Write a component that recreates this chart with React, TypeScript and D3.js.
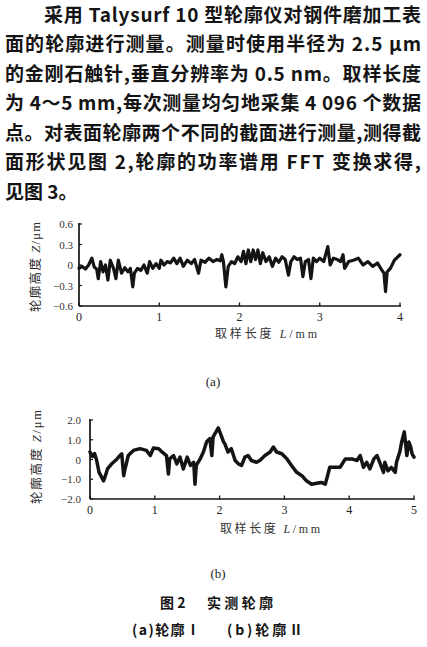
import React from 'react';
import * as d3 from 'd3';

// ---- paragraph text ----
const paragraphLines = [
  '采用 Talysurf 10 型轮廓仪对钢件磨加工表',
  '面的轮廓进行测量。测量时使用半径为 2.5 μm',
  '的金刚石触针,垂直分辨率为 0.5 nm。取样长度',
  '为 4～5 mm,每次测量均匀地采集 4 096 个数据',
  '点。对表面轮廓两个不同的截面进行测量,测得截',
  '面形状见图 2,轮廓的功率谱用 FFT 变换求得,',
  '见图 3。',
];

// ---- profile I (a) ----
const profileA_L = [
  0.00, 0.04, 0.08, 0.12, 0.16, 0.19, 0.22, 0.24, 0.27, 0.30, 0.33, 0.36, 0.39, 0.43, 0.46, 0.49,
  0.53, 0.57, 0.61, 0.64, 0.67, 0.69, 0.73, 0.77, 0.81, 0.85, 0.88, 0.92, 0.96, 1.00, 1.02, 1.06,
  1.10, 1.14, 1.18, 1.22, 1.26, 1.30, 1.35, 1.40, 1.44, 1.49, 1.52, 1.57, 1.62, 1.67, 1.72, 1.76,
  1.78, 1.80, 1.83, 1.86, 1.90, 1.94, 1.98, 2.02, 2.05, 2.08, 2.11, 2.14, 2.17, 2.20, 2.23, 2.26,
  2.29, 2.33, 2.37, 2.41, 2.45, 2.49, 2.53, 2.57, 2.61, 2.64, 2.68, 2.72, 2.76, 2.79, 2.82, 2.86,
  2.89, 2.92, 2.96, 3.00, 3.05, 3.10, 3.13, 3.17, 3.22, 3.26, 3.29, 3.31, 3.36, 3.42, 3.48, 3.54,
  3.60, 3.66, 3.72, 3.77, 3.80, 3.82, 3.84, 3.88, 3.93, 4.00,
];
const profileA_Z = [
  -0.05, -0.02, -0.06, 0.00, 0.10, -0.03, -0.06, -0.20, 0.05, -0.10, 0.00, -0.22, 0.07, -0.05, -0.20, 0.07,
  -0.12, -0.04, -0.10, -0.05, -0.32, -0.12, -0.05, -0.08, 0.00, -0.12, 0.05, -0.05, 0.02, -0.05, 0.07, 0.00,
  0.05, 0.03, 0.10, 0.02, 0.10, -0.02, 0.07, 0.02, 0.08, -0.12, 0.07, 0.04, 0.10, 0.05, 0.08, 0.06,
  0.15, 0.05, -0.32, -0.02, 0.05, 0.02, 0.12, 0.05, 0.20, 0.02, 0.22, 0.05, 0.22, 0.08, 0.22, 0.02,
  0.18, 0.05, 0.12, -0.02, 0.10, 0.04, 0.12, 0.08, -0.15, 0.05, 0.12, 0.08, 0.10, -0.17, 0.05, 0.08,
  -0.20, 0.10, 0.05, 0.10, 0.05, 0.27, 0.00, 0.10, 0.08, 0.05, 0.15, -0.05, 0.05, 0.07, 0.10, 0.00,
  0.05, -0.02, 0.03, -0.07, -0.12, -0.39, -0.10, -0.05, 0.07, 0.15,
];
const xTicksA = [0, 1, 2, 3, 4];
const yTicksA = [0.6, 0.3, 0, -0.3, -0.6];
const yTickLabelsA = ['0.6', '0.3', '0', '−0.3', '−0.6'];

// ---- profile II (b) ----
const profileB_L = [
  0.00, 0.04, 0.07, 0.10, 0.14, 0.21, 0.23, 0.27, 0.34, 0.41, 0.46, 0.49, 0.52, 0.54, 0.56, 0.59,
  0.67, 0.77, 0.87, 0.93, 0.98, 1.06, 1.11, 1.18, 1.21, 1.23, 1.29, 1.34, 1.39, 1.44, 1.50, 1.55,
  1.60, 1.62, 1.64, 1.70, 1.75, 1.80, 1.85, 1.88, 1.90, 1.98, 2.06, 2.08, 2.13, 2.18, 2.24, 2.29,
  2.34, 2.39, 2.44, 2.49, 2.57, 2.62, 2.70, 2.78, 2.83, 2.88, 2.96, 3.04, 3.11, 3.19, 3.27, 3.34,
  3.42, 3.50, 3.57, 3.63, 3.66, 3.70, 3.78, 3.86, 3.94, 4.04, 4.12, 4.17, 4.22, 4.27, 4.32, 4.38,
  4.43, 4.48, 4.53, 4.55, 4.60, 4.65, 4.71, 4.73, 4.78, 4.81, 4.85, 4.89, 4.92, 4.95, 4.97, 5.00,
];
const profileB_Z = [
  0.38, 0.15, 0.30, 0.00, -0.65, -1.08, -0.90, -0.48, -0.20, 0.00, 0.20, 0.28, -0.82, -0.48, -0.22, 0.20,
  0.46, 0.55, 0.46, 0.20, 0.58, 0.55, 0.38, 0.20, -0.74, 0.03, 0.20, -0.22, 0.12, -0.48, 0.12, -0.30,
  -0.14, -1.25, -0.30, 0.03, 0.38, 0.90, 1.06, 0.20, 1.14, 1.60, 0.90, 0.80, 0.38, 0.55, -0.05, -0.22,
  -0.30, 0.12, 0.20, -0.05, -0.14, -0.05, 0.20, 0.38, 0.63, 0.38, 0.29, 0.03, -0.30, -0.65, -0.82, -1.08,
  -1.25, -1.20, -1.16, -1.25, -0.90, -0.39, -0.39, -0.39, 0.03, 0.03, -0.05, 0.20, -0.40, -0.14, -0.48, 0.03,
  0.20, -0.22, -0.65, -0.14, -0.57, -0.40, -0.65, -0.14, 0.38, 0.89, 1.40, 0.20, 0.89, 0.63, 0.29, 0.12,
];
const xTicksB = [0, 1, 2, 3, 4, 5];
const yTicksB = [2, 1, 0, -1, -2];
const yTickLabelsB = ['2.0', '1.0', '0', '−1.0', '−2.0'];

const INK = '#141414';
const SERIF = '"Liberation Serif", "DejaVu Serif", serif';
const CJK = '"Noto Sans CJK SC", "Noto Sans", sans-serif';

type ChartProps = {
  L: number[];
  Z: number[];
  xTicks: number[];
  yTicks: number[];
  yTickLabels: string[];
  left: number;
  right: number;
  top: number;
  bottom: number;
  strokeW: number;
  labelGap: number;
  xTitleX: number;
  xTitleY: number;
  xTitleLen: number;
  yTitleX: number;
  yTitleY: number;
  yTitleLen: number;
};

function ProfileChart(p: ChartProps) {
  const xDom = [p.xTicks[0], p.xTicks[p.xTicks.length - 1]];
  const yDom = [p.yTicks[p.yTicks.length - 1], p.yTicks[0]];
  const x = d3.scaleLinear().domain(xDom).range([p.left, p.right]);
  const y = d3.scaleLinear().domain(yDom).range([p.bottom, p.top]);
  const pts = p.L.map((l, i) => [l, p.Z[i]] as [number, number]);
  const line = d3
    .line<[number, number]>()
    .x((d) => x(d[0]))
    .y((d) => y(d[1]));
  return (
    <g>
      <line x1={p.left} x2={p.left} y1={p.top - 1} y2={p.bottom} stroke={INK} strokeWidth={1.7} />
      <line x1={p.left} x2={p.right + 1} y1={p.bottom} y2={p.bottom} stroke={INK} strokeWidth={1.7} />
      {p.yTicks.map((t, i) => (
        <g key={'yt' + i}>
          <line x1={p.left} x2={p.left + 3} y1={y(t)} y2={y(t)} stroke={INK} strokeWidth={1.2} />
          <text
            x={p.left - p.labelGap}
            y={y(t) + 4}
            textAnchor="end"
            fontFamily={SERIF}
            fontSize={11}
            fill="#333"
          >
            {p.yTickLabels[i]}
          </text>
        </g>
      ))}
      {p.xTicks.map((t, i) => (
        <g key={'xt' + i}>
          <line x1={x(t)} x2={x(t)} y1={p.bottom} y2={p.bottom - 3.5} stroke={INK} strokeWidth={1.3} />
          <text x={x(t)} y={p.bottom + 15} textAnchor="middle" fontFamily={SERIF} fontSize={12} fill="#222">
            {t}
          </text>
        </g>
      ))}
      <path
        d={line(pts) || ''}
        fill="none"
        stroke={INK}
        strokeWidth={p.strokeW}
        strokeLinejoin="round"
        strokeLinecap="round"
      />
      <text
        x={p.xTitleX}
        y={p.xTitleY}
        textAnchor="middle"
        fontFamily={CJK}
        fontSize={12}
        fill="#333"
        textLength={p.xTitleLen}
        lengthAdjust="spacing"
      >
        取样长度 <tspan fontStyle="italic" fontFamily={SERIF}>L</tspan>
        <tspan fontFamily={SERIF}>/mm</tspan>
      </text>
      <text
        transform={`translate(${p.yTitleX},${p.yTitleY}) rotate(-90)`}
        textAnchor="middle"
        fontFamily={CJK}
        fontSize={12.5}
        fill="#2a2a2a"
        textLength={p.yTitleLen}
        lengthAdjust="spacing"
      >
        轮廓高度 <tspan fontStyle="italic" fontFamily={SERIF}>Z</tspan>
        <tspan fontFamily={SERIF}>/μm</tspan>
      </text>
    </g>
  );
}

export default function App() {
  const lineCenters = [14.5, 44, 73.5, 103, 132.5, 162, 191.5];
  return (
    <svg
      width={427}
      height={647}
      viewBox="0 0 427 647"
      style={{ position: 'absolute', left: 0, top: 0, background: '#fff' }}
    >
      <rect x={0} y={0} width={427} height={647} fill="#fff" />
      {paragraphLines.map((s, i) => {
        const justified = i < paragraphLines.length - 1;
        const x0 = i === 0 ? 44 : 5;
        return (
          <text
            key={i}
            x={x0}
            y={lineCenters[i] + 7}
            fontFamily={CJK}
            fontWeight={700}
            fontSize={19}
            fill={INK}
            {...(justified ? { textLength: 421 - x0, lengthAdjust: 'spacing' } : {})}
          >
            {s}
          </text>
        );
      })}

      <ProfileChart
        L={profileA_L}
        Z={profileA_Z}
        xTicks={xTicksA}
        yTicks={yTicksA}
        yTickLabels={yTickLabelsA}
        left={79}
        right={400}
        top={224}
        bottom={306}
        strokeW={3.2}
        labelGap={6}
        xTitleX={266}
        xTitleY={338}
        xTitleLen={102}
        yTitleX={40}
        yTitleY={267}
        yTitleLen={90}
      />
      <text x={213} y={386} textAnchor="middle" fontFamily={SERIF} fontSize={13} fill="#222">
        (a)
      </text>

      <ProfileChart
        L={profileB_L}
        Z={profileB_Z}
        xTicks={xTicksB}
        yTicks={yTicksB}
        yTickLabels={yTickLabelsB}
        left={90}
        right={414}
        top={420}
        bottom={499}
        strokeW={3.5}
        labelGap={9}
        xTitleX={270}
        xTitleY={533}
        xTitleLen={100}
        yTitleX={41}
        yTitleY={457}
        yTitleLen={94}
      />
      <text x={218} y={578} textAnchor="middle" fontFamily={SERIF} fontSize={13} fill="#222">
        (b)
      </text>

      <text x={160} y={608} fontFamily={CJK} fontWeight={700} fontSize={14} fill={INK}>
        图 2
      </text>
      <text
        x={207}
        y={608}
        fontFamily={CJK}
        fontWeight={700}
        fontSize={14}
        fill={INK}
        textLength={66}
        lengthAdjust="spacing"
      >
        实测轮廓
      </text>
      <text
        x={132}
        y={635}
        fontFamily={CJK}
        fontWeight={700}
        fontSize={14}
        fill={INK}
        textLength={68}
        lengthAdjust="spacing"
      >
        (a)轮廓Ⅰ
      </text>
      <text
        x={227}
        y={635}
        fontFamily={CJK}
        fontWeight={700}
        fontSize={14}
        fill={INK}
        textLength={76}
        lengthAdjust="spacing"
      >
        (b)轮廓Ⅱ
      </text>
    </svg>
  );
}
